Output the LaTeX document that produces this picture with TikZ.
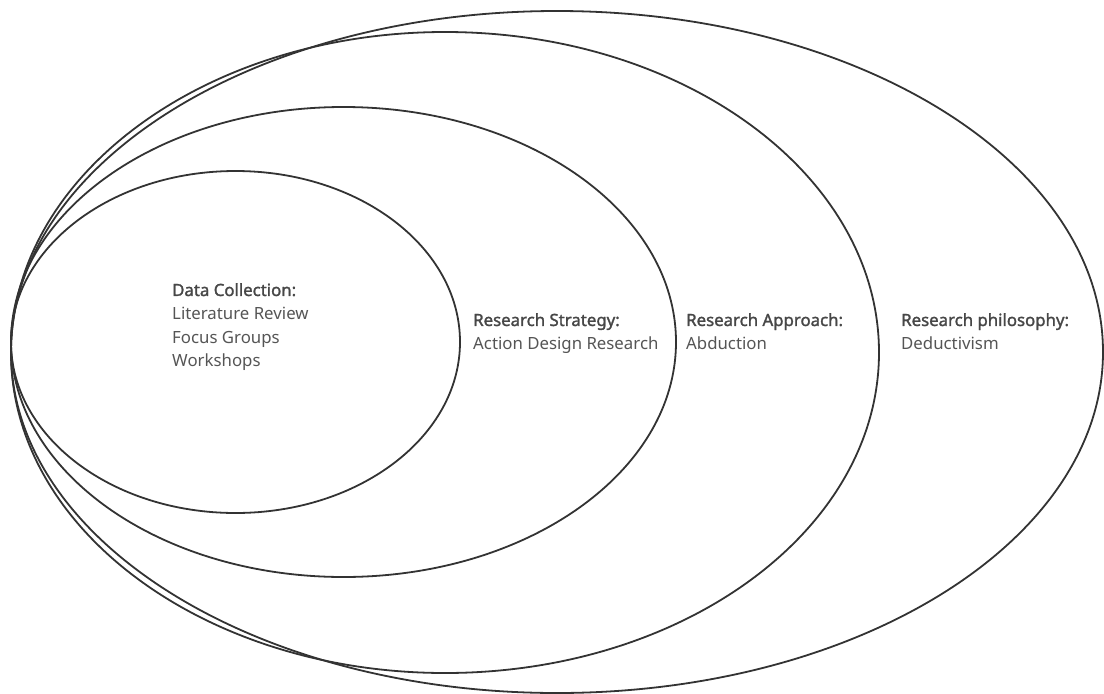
\documentclass[tikz,border=0pt]{standalone}
\usepackage{fontspec}
\setmainfont{Noto Sans}
\newfontfamily\headfont{Noto Sans}[FakeBold=1.6]
\usetikzlibrary{shapes.geometric}
\definecolor{ringline}{HTML}{333333}
\definecolor{headtext}{HTML}{474747}
\definecolor{bodytext}{HTML}{555555}
\newcommand{\headline}[1]{{\headfont\color{headtext}#1}}
\begin{document}
\begin{tikzpicture}[x=1pt,y=-1pt,
  ring/.style={draw=ringline,line width=1.8pt},
  label/.style={anchor=north west,inner sep=0pt,align=left,
    font=\fontsize{16.8}{23.6}\selectfont,text=bodytext}]
\useasboundingbox (0,0) rectangle (1104,694);
% nested rings, all touching on the left
\draw[ring] (557,352) ellipse [x radius=546,y radius=341];
\draw[ring] (445,352.5) ellipse [x radius=434,y radius=320.5];
\draw[ring] (343.5,342) ellipse [x radius=332.5,y radius=235];
\draw[ring] (235.5,342) ellipse [x radius=224.5,y radius=171];
% labels
\node[label] (data) at (172,283) {\headline{Data Collection:}\\Literature Review\\Focus Groups\\Workshops};
\node[label] (strategy) at (473,313) {\headline{Research Strategy:}\\Action Design Research};
\node[label] (approach) at (686,313) {\headline{Research Approach:}\\Abduction};
\node[label] (philosophy) at (901,313) {\headline{Research philosophy:}\\Deductivism};
\end{tikzpicture}
\end{document}
